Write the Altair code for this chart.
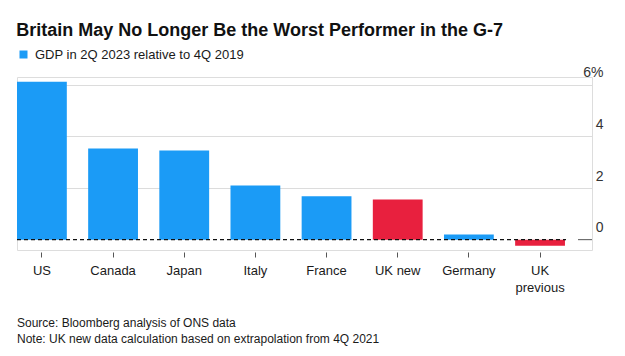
import altair as alt
import pandas as pd

countries = ["US", "Canada", "Japan", "Italy", "France", "UK new", "Germany", "UK previous"]
values = [6.12, 3.53, 3.45, 2.1, 1.68, 1.56, 0.2, -0.24]
series = ["GDP in 2Q 2023 relative to 4Q 2019"] * 5 + ["UK"] + ["GDP in 2Q 2023 relative to 4Q 2019"] + ["UK"]
y_ticks = [0, 2, 4, 6]
footer_lines = ["Source: Bloomberg analysis of ONS data",
                "Note: UK new data calculation based on extrapolation from 4Q 2021"]

FONT = "Liberation Sans, Arial, sans-serif"
BLUE = "#1b9bf6"
RED = "#e8203e"

df = pd.DataFrame({"country": countries, "value": values, "series": series})
one = pd.DataFrame({"k": [0]})

xscale = alt.Scale(paddingInner=0.3, paddingOuter=0.19, align=0)
yscale = alt.Scale(domain=[-0.4, 6.3], nice=False)

bars = alt.Chart(df).mark_bar().encode(
    x=alt.X("country:N", sort=countries, scale=xscale, title=None,
            axis=alt.Axis(labelAngle=0, domain=False, tickSize=5, tickColor="#555",
                          offset=2, labelPadding=7, labelFont=FONT, labelFontSize=13,
                          labelColor="#1a1a1a", labelLineHeight=17,
                          labelExpr="datum.value == 'UK previous' ? ['UK', 'previous'] : datum.label")),
    y=alt.Y("value:Q", scale=yscale, title=None,
            axis=alt.Axis(orient="right", values=y_ticks, domain=False, ticks=False,
                          labelAlign="right", labelPadding=11, labelBaseline="alphabetic",
                          labelOffset=-8, labelFont=FONT, labelFontSize=14, labelColor="#333",
                          gridColor={"condition": {"test": "datum.value === 0", "value": "transparent"},
                                     "value": "#dcdcdc"},
                          labelExpr="datum.value == 6 ? '6%' : datum.label")),
    color=alt.Color("series:N",
                    scale=alt.Scale(domain=["GDP in 2Q 2023 relative to 4Q 2019", "UK"], range=[BLUE, RED]),
                    legend=alt.Legend(title=None, orient="none", legendX=0, legendY=-29,
                                      values=["GDP in 2Q 2023 relative to 4Q 2019"],
                                      symbolType="square", symbolSize=64, symbolStrokeWidth=0,
                                      labelFont=FONT, labelFontSize=13, labelColor="#1a1a1a",
                                      labelLimit=500, padding=0, labelOffset=5)),
)

zero = alt.Chart(one).mark_rule(color="#111", strokeDash=[4, 3], strokeWidth=1.4).encode(
    y=alt.datum(0, scale=yscale), x=alt.value(0), x2=alt.value(549)
)
zero_tick = alt.Chart(one).mark_rule(color="#555", strokeWidth=1).encode(
    y=alt.datum(0, scale=yscale), x=alt.value(561), x2=alt.value(575)
)

footer = alt.Chart(one).mark_text(align="left", baseline="middle", font=FONT, fontSize=12,
                                  fontWeight="normal", color="#1a1a1a", lineHeight=16).encode(
    x=alt.value(0), y=alt.value(246),
    text=alt.value(footer_lines)
)

chart = alt.layer(bars, zero, zero_tick, footer).properties(
    width=575, height=173,
    title=alt.TitleParams("Britain May No Longer Be the Worst Performer in the G-7",
                          anchor="start", font=FONT, fontSize=18, fontWeight="bold",
                          color="#111", offset=8),
    autosize=alt.AutoSizeParams(type="none"),
    padding={"left": 17, "top": 77, "right": 33, "bottom": 106},
).configure_view(stroke=None).configure(font=FONT)

chart.save("out.html", embed_options={"renderer": "svg", "actions": False})
